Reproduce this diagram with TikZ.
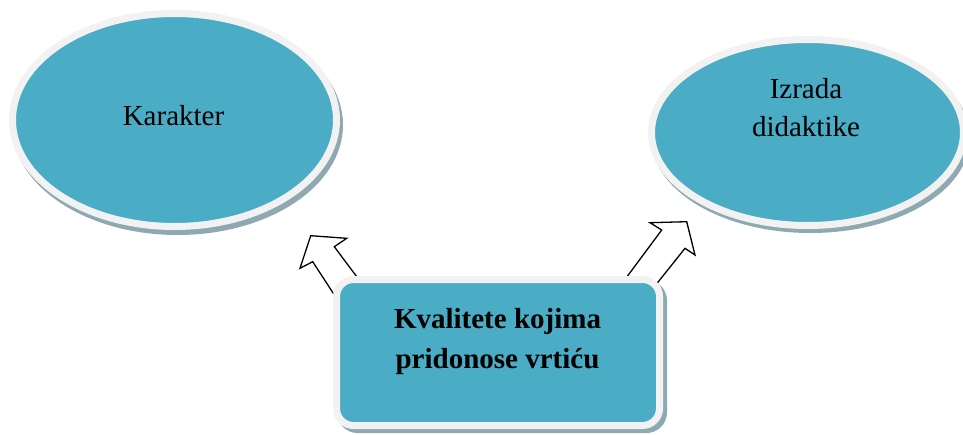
\documentclass[tikz,border=0pt]{standalone}
\usepackage{fontspec}
\setmainfont{Liberation Serif}
\usetikzlibrary{shapes.geometric}
\definecolor{tealfill}{HTML}{4BACC6}
\definecolor{ringcol}{HTML}{F2F2F2}
\definecolor{shadecol}{HTML}{8FA9B2}
\begin{document}
\begin{tikzpicture}[x=1pt,y=-1pt,
  oval/.style={ellipse,inner sep=0pt,fill=tealfill,draw=ringcol,line width=7pt},
  ovalshadow/.style={ellipse,inner sep=0pt,fill=shadecol,draw=shadecol,line width=7pt},
  card/.style={rectangle,rounded corners=17pt,inner sep=0pt,minimum width=323pt,minimum height=146pt,fill=tealfill,draw=ringcol,line width=7pt},
  cardshadow/.style={card,fill=shadecol,draw=shadecol},
  lbl/.style={font=\fontsize{29}{38}\selectfont,align=center,text=black},
  blockarrow/.style={draw=black,fill=white,line width=1.3pt,line join=miter}]
\useasboundingbox (0,0) rectangle (963,434);
% block arrows (bases hidden under the box)
\draw[blockarrow] (337.4,299.6) -- (312.7,261.7) -- (300,268.3) -- (310.7,235.7) -- (346.7,238.3) -- (334.3,246.7) -- (361.2,282.7);
\draw[blockarrow] (621.6,284) -- (661.7,230) -- (650,222.7) -- (686.7,221.7) -- (695,255) -- (685,248.3) -- (653,288.4);
% shadows
\node[ovalshadow,minimum width=324pt,minimum height=213pt] (karakterShadow) at (177.5,125) {};
\node[ovalshadow,minimum width=312pt,minimum height=184pt] (izradaShadow) at (810.5,137.5) {};
\node[cardshadow] (kvalShadow) at (502,356.5) {};
% shapes
\node[oval,minimum width=324pt,minimum height=213pt] (karakter) at (174.5,120) {};
\node[oval,minimum width=312pt,minimum height=186pt] (izrada) at (807.5,132.5) {};
\node[card] (kval) at (498,352.5) {};
% texts
\node[lbl] (karakterText) at (173.5,116) {Karakter};
\node[lbl] (izradaText) at (806,108) {Izrada\\didaktike};
\node[lbl,font=\fontsize{29}{40}\selectfont\bfseries] (kvalText) at (497.5,342) {Kvalitete kojima\\pridonose vrtiću};
\end{tikzpicture}
\end{document}
